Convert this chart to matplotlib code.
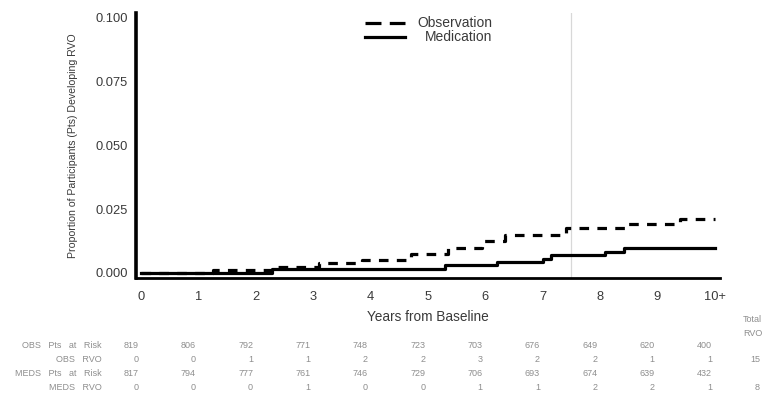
import matplotlib
matplotlib.use("Agg")
import matplotlib.pyplot as plt
from matplotlib.lines import Line2D
from matplotlib.transforms import blended_transform_factory

plt.rcParams['font.family'] = ['Liberation Sans', 'DejaVu Sans']

# Cumulative proportion developing RVO (step curves)
obs_times = [0, 1.25, 2.28, 3.1, 3.85, 4.7, 5.35, 5.95, 6.35, 7.4, 8.48, 9.39, 10.0]
obs_cuminc = [0, 0.0010, 0.0023, 0.0037, 0.0049, 0.0074, 0.0098, 0.0125, 0.0147,
              0.0175, 0.0193, 0.0210, 0.0210]
med_times = [0, 2.28, 5.3, 6.2, 7.0, 7.15, 8.08, 8.42, 10.0]
med_cuminc = [0, 0.0014, 0.0029, 0.0042, 0.0056, 0.0071, 0.0082, 0.0097, 0.0097]

# Axis ticks
x_ticks = list(range(11))
x_tick_labels = ['0', '1', '2', '3', '4', '5', '6', '7', '8', '9', '10+']
y_ticks = [0.0, 0.025, 0.05, 0.075, 0.1]
y_tick_labels = ['0.000', '0.025', '0.050', '0.075', '0.100']
ref_year = 7.5

# Numbers-at-risk table
row_labels = ['OBS   Pts   at   Risk', 'OBS   RVO', 'MEDS   Pts   at   Risk', 'MEDS   RVO']
obs_at_risk = [819, 806, 792, 771, 748, 723, 703, 676, 649, 620, 400]
obs_rvo = [0, 0, 1, 1, 2, 2, 3, 2, 2, 1, 1]
meds_at_risk = [817, 794, 777, 761, 746, 729, 706, 693, 674, 639, 432]
meds_rvo = [0, 0, 0, 1, 0, 0, 1, 1, 2, 2, 1]
total_rvo = ['', '15', '', '8']

W, H = 764, 394
fig = plt.figure(figsize=(W / 100, H / 100), dpi=100)
ax = fig.add_axes([136 / W, 1 - 278 / H, (720 - 136) / W, (278 - 13) / H])

ax.axvline(ref_year, color='#d8d8d8', lw=0.9, zorder=1)
ax.step(obs_times, obs_cuminc, where='post', color='black', lw=2.3,
        linestyle=(0, (3.0, 2.6)), zorder=3)
ax.step(med_times, med_cuminc, where='post', color='black', lw=2.3, zorder=3)

ax.set_xlim(-0.09, 10.09)
ax.set_ylim(-0.002, 0.1018)
ax.set_xticks(x_ticks)
ax.set_xticklabels(x_tick_labels)
ax.set_yticks(y_ticks)
ax.set_yticklabels(y_tick_labels)
ax.tick_params(axis='both', length=0, labelsize=9.3, colors='#3a3a3a')
ax.tick_params(axis='y', pad=6)
ax.tick_params(axis='x', pad=9)

for s in ['top', 'right']:
    ax.spines[s].set_visible(False)
ax.spines['left'].set_linewidth(2.6)
ax.spines['bottom'].set_linewidth(2.0)

ax.set_ylabel('Proportion of Participants (Pts) Developing RVO', fontsize=7.6,
              color='#3a3a3a')
ax.yaxis.set_label_coords((78 - 136) / 584, 0.5)
ax.set_xlabel('Years from Baseline', fontsize=9.8, color='#3a3a3a')
ax.xaxis.set_label_coords(0.5, -(317 - 278) / 265)
ax.xaxis.label.set_va('center')

# Legend drawn in axes fraction
lx0, lx1 = (365 - 136) / 584, (405 - 136) / 584
ly_obs, ly_med = 1 - (23 - 13) / 265, 1 - (37 - 13) / 265
ax.add_line(Line2D([lx0, lx1], [ly_obs, ly_obs], transform=ax.transAxes,
                   color='black', lw=2.3, linestyle=(0, (5.0, 2.6)), clip_on=False))
ax.add_line(Line2D([lx0, lx1], [ly_med, ly_med], transform=ax.transAxes,
                   color='black', lw=2.3, clip_on=False))
tx = (492 - 136) / 584
ax.text(tx, ly_obs, 'Observation', transform=ax.transAxes, ha='right', va='center',
        fontsize=10, color='#3a3a3a')
ax.text(tx, ly_med, 'Medication', transform=ax.transAxes, ha='right', va='center',
        fontsize=10, color='#3a3a3a')

# Risk table below the axis
trans = blended_transform_factory(ax.transData, fig.transFigure)
row_y = [345, 360, 374, 388]
rows = [obs_at_risk, obs_rvo, meds_at_risk, meds_rvo]
tbl_color = '#8e8e8e'
for label, yy, vals, tot in zip(row_labels, row_y, rows, total_rvo):
    fy = 1 - yy / H
    fig.text(102 / W, fy, label, ha='right', va='center', fontsize=6.5, color=tbl_color)
    for xv, v in zip(x_ticks, vals):
        ax.text(xv - 0.05, fy, str(v), transform=trans, ha='right', va='center',
                fontsize=6.5, color=tbl_color)
    if tot:
        fig.text(760 / W, fy, tot, ha='right', va='center', fontsize=6.5, color=tbl_color)

fig.text(743 / W, 1 - 320 / H, 'Total', ha='left', va='center', fontsize=6.5, color=tbl_color)
fig.text(743 / W, 1 - 333 / H, 'RVO', ha='left', va='center', fontsize=6.5, color=tbl_color)

fig.savefig('out.png', dpi=100)
